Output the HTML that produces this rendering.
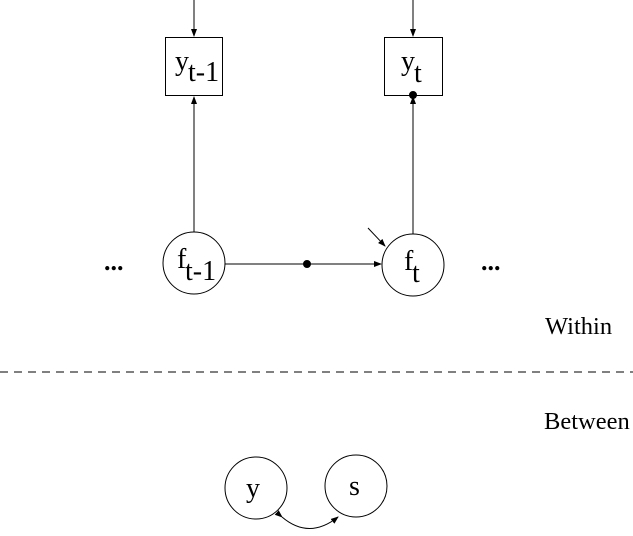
<!DOCTYPE html>
<html><head><style>body{margin:0;background:#fff}</style></head><body>
<svg width="633" height="531" xmlns="http://www.w3.org/2000/svg" font-family="Liberation Serif, serif" fill="none" stroke="#000" stroke-width="1">
<defs><marker id="a" markerWidth="8" markerHeight="8" refX="7" refY="4" orient="auto" markerUnits="userSpaceOnUse"><path d="M0,1 L8,4 L0,7 z" fill="#000" stroke="none"/></marker></defs>
<rect x="165.5" y="37.5" width="57" height="58"/>
<rect x="384.5" y="37.5" width="58" height="58"/>
<line x1="194" y1="0" x2="194" y2="36" marker-end="url(#a)"/>
<line x1="413" y1="0" x2="413" y2="36" marker-end="url(#a)"/>
<circle cx="194" cy="263" r="31"/>
<circle cx="413" cy="265" r="31"/>
<line x1="194" y1="232" x2="194" y2="97" marker-end="url(#a)"/>
<line x1="413" y1="234" x2="413" y2="97" marker-end="url(#a)"/>
<circle cx="413" cy="95" r="3.5" fill="#000"/>
<line x1="225" y1="264" x2="381" y2="264" marker-end="url(#a)"/>
<circle cx="307" cy="264" r="3.5" fill="#000"/>
<line x1="368" y1="228" x2="385" y2="246" marker-end="url(#a)"/>
<line x1="0" y1="372" x2="633" y2="372" stroke-dasharray="8,6"/>
<circle cx="256" cy="488" r="31"/>
<circle cx="356" cy="486" r="31"/>
<path d="M282,517 Q309,540 338,517" marker-start="url(#a)" marker-end="url(#a)"/>
<g fill="#000" stroke="none">
<text x="175" y="70" font-size="28">y</text><text x="188" y="81" font-size="28">t-1</text>
<text x="401" y="70" font-size="28">y</text><text x="414" y="82" font-size="28">t</text>
<text x="177" y="268" font-size="28">f</text><text x="185" y="280" font-size="28">t-1</text>
<text x="404" y="270" font-size="28">f</text><text x="412" y="282" font-size="28">t</text>
<text x="104" y="270" font-size="26" font-weight="bold">...</text><text x="481" y="270" font-size="26" font-weight="bold">...</text>
<text x="246" y="497" font-size="28">y</text><text x="349" y="495" font-size="28">s</text>
<text x="545" y="334" font-size="24.5">Within</text>
<text x="544" y="429" font-size="24.5">Between</text>
</g>
</svg>
</body></html>
